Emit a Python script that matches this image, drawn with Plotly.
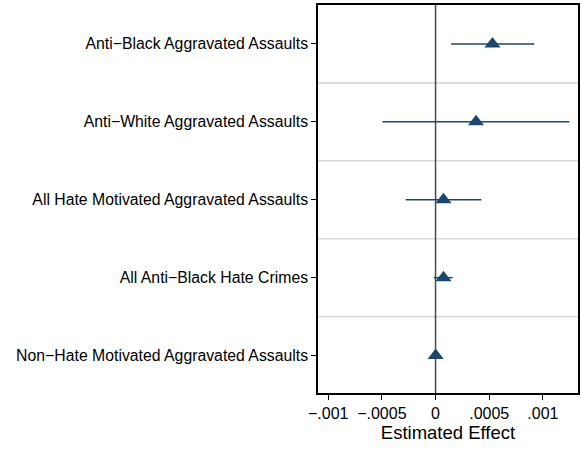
import plotly.graph_objects as go

# Outcome labels, top to bottom
outcomes = [
    "Anti\u2212Black Aggravated Assaults",
    "Anti\u2212White Aggravated Assaults",
    "All Hate Motivated Aggravated Assaults",
    "All Anti\u2212Black Hate Crimes",
    "Non\u2212Hate Motivated Aggravated Assaults",
]
# Point estimates and 95% confidence bounds
estimates = [0.00053, 0.000377, 0.000074, 0.000074, 0.000001]
ci_low = [0.000145, -0.000494, -0.000278, -0.000016, -0.000010]
ci_high = [0.00092, 0.001247, 0.000426, 0.00016, 0.000012]

# Axis ticks
x_ticks = [-0.001, -0.0005, 0, 0.0005, 0.001]
x_tick_text = ["\u2212.001", "\u2212.0005", "0", ".0005", ".001"]

NAVY = "#1a476f"
FONT = "Liberation Sans, Arial, Helvetica, sans-serif"

rows = list(range(1, len(outcomes) + 1))

fig = go.Figure()
fig.add_trace(go.Scatter(
    x=estimates,
    y=rows,
    mode="markers",
    marker=dict(symbol="triangle-up", size=14, color=NAVY),
    error_x=dict(
        type="data",
        symmetric=False,
        array=[h - e for h, e in zip(ci_high, estimates)],
        arrayminus=[e - l for e, l in zip(estimates, ci_low)],
        width=0,
        thickness=1.5,
        color=NAVY,
    ),
    showlegend=False,
    hoverinfo="skip",
))

shapes = []
# separators between outcome rows
for r in rows[:-1]:
    shapes.append(dict(
        type="line", xref="paper", yref="y", x0=0, x1=1, y0=r + 0.5, y1=r + 0.5,
        line=dict(color="#d9d9d9", width=1.6), layer="below",
    ))
# reference line at zero effect
shapes.append(dict(
    type="line", xref="x", yref="paper", x0=0, x1=0, y0=0, y1=1,
    line=dict(color="#4a4a4a", width=1.5), layer="below",
))

fig.update_layout(
    width=581,
    height=449,
    margin=dict(l=318, r=1, t=5, b=56),
    paper_bgcolor="white",
    plot_bgcolor="white",
    font=dict(family=FONT, color="black"),
    shapes=shapes,
    xaxis=dict(
        range=[-0.001095, 0.001327],
        tickvals=x_ticks,
        ticktext=x_tick_text,
        ticks="outside",
        ticklen=5,
        tickwidth=1.2,
        tickcolor="black",
        tickfont=dict(size=16),
        showgrid=False,
        zeroline=False,
        showline=True,
        linecolor="black",
        linewidth=1.5,
        mirror=True,
        title=dict(text="Estimated Effect", font=dict(size=18.5), standoff=5),
    ),
    yaxis=dict(
        range=[5.48, 0.5],
        tickvals=rows,
        ticktext=outcomes,
        ticks="outside",
        ticklen=5,
        tickwidth=1.2,
        tickcolor="black",
        tickfont=dict(size=15.8),
        showgrid=False,
        zeroline=False,
        showline=True,
        linecolor="black",
        linewidth=1.5,
        mirror=True,
    ),
)

fig.write_html("out.html")
